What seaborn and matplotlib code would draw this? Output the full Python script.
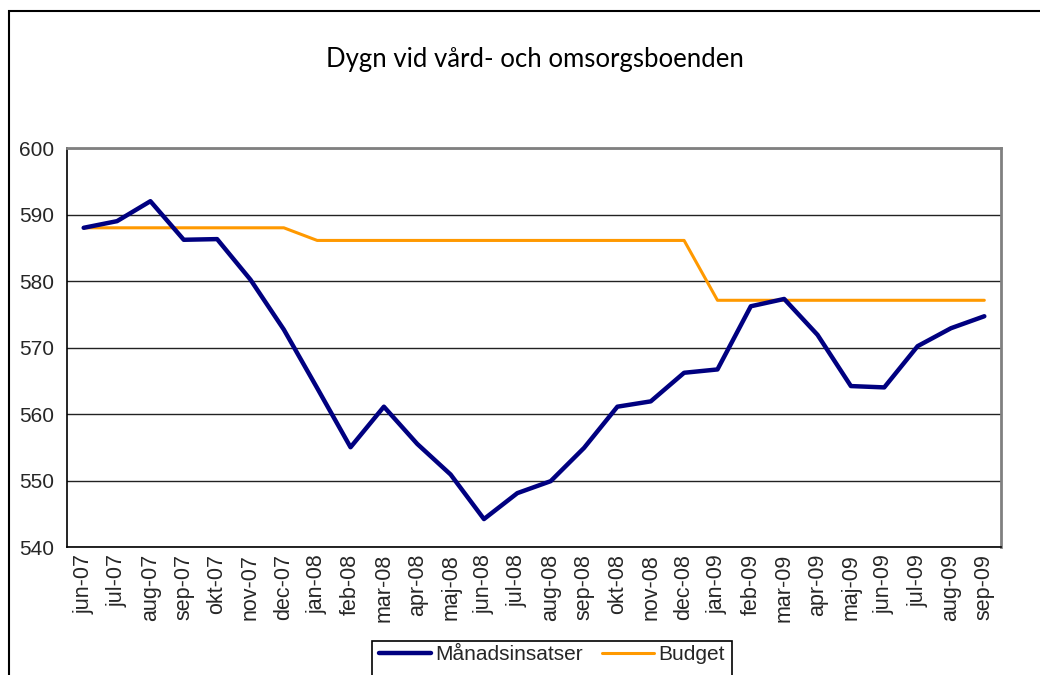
import numpy as np
import pandas as pd
import seaborn as sns
import matplotlib.pyplot as plt
from matplotlib.patches import Rectangle

# Månader (kategorier på x-axeln)
months = ["jun-07", "jul-07", "aug-07", "sep-07", "okt-07", "nov-07", "dec-07",
          "jan-08", "feb-08", "mar-08", "apr-08", "maj-08", "jun-08", "jul-08",
          "aug-08", "sep-08", "okt-08", "nov-08", "dec-08", "jan-09", "feb-09",
          "mar-09", "apr-09", "maj-09", "jun-09", "jul-09", "aug-09", "sep-09"]

# Månadsinsatser
insatser = [588.0, 589.0, 592.0, 586.2, 586.3, 580.2, 572.7,
            563.9, 555.0, 561.1, 555.5, 550.9, 544.2, 548.1,
            549.9, 554.9, 561.1, 561.9, 566.2, 566.7, 576.2,
            577.3, 571.9, 564.2, 564.0, 570.2, 572.9, 574.7]

# Budget
budget = [588.0] * 7 + [586.1] * 12 + [577.1] * 9

y_ticks = [540, 550, 560, 570, 580, 590, 600]

df = pd.DataFrame({
    "month": months * 2,
    "value": insatser + budget,
    "serie": ["Månadsinsatser"] * len(months) + ["Budget"] * len(months),
})

sns.set_style("white")
plt.rcParams["font.family"] = ["Liberation Sans", "DejaVu Sans"]

fig = plt.figure(figsize=(10.4, 6.75), dpi=100)
ax = fig.add_axes([67 / 1040, 1 - 547 / 675, (1001 - 67) / 1040, (547 - 148) / 675])

sns.lineplot(data=df, x="month", y="value", hue="serie", sort=False,
             palette={"Månadsinsatser": "#000080", "Budget": "#FF9900"},
             ax=ax, legend=False)
ax.lines[0].set_linewidth(3.2)
ax.lines[1].set_linewidth(2.2)
ax.lines[1].set_zorder(3)
ax.lines[0].set_zorder(4)

ax.set_ylim(540, 600)
ax.set_xlim(-0.5, len(months) - 0.5)
ax.set_yticks(y_ticks)
ax.set_yticklabels([str(v) for v in y_ticks], fontsize=15)
ax.yaxis.grid(True, color="#222222", linewidth=1.0)
ax.set_axisbelow(True)

# tick marks at category boundaries, labels at centres
ax.set_xticks(np.arange(-0.5, len(months), 1.0))
ax.set_xticklabels([])
ax.set_xticks(np.arange(len(months)), minor=True)
ax.set_xticklabels(months, minor=True, rotation=90, fontsize=15.5)
ax.tick_params(axis="x", which="major", direction="out", length=7, width=1, color="black")
ax.tick_params(axis="x", which="minor", length=0, pad=5)
ax.tick_params(axis="y", direction="out", length=6, width=1, color="black", pad=3)
ax.set_xlabel("")
ax.set_ylabel("")

for side in ["left", "bottom"]:
    ax.spines[side].set_color("black")
    ax.spines[side].set_linewidth(1.2)
for side in ["top", "right"]:
    ax.spines[side].set_color("#808080")
    ax.spines[side].set_linewidth(2)

fig.text(535 / 1040, 1 - 60 / 675, "Dygn vid vård- och omsorgsboenden",
         ha="center", va="center", fontsize=18.5, color="black",
         family=["Lato", "DejaVu Sans"])

# legend (box runs off the bottom edge like in the original)
handles = [plt.Line2D([], [], color="#000080", lw=3.2),
           plt.Line2D([], [], color="#FF9900", lw=2.2)]
leg = fig.legend(handles, ["Månadsinsatser", "Budget"], loc="upper center",
                 bbox_to_anchor=(552 / 1040, 1 - 642 / 675), ncol=2, fontsize=15,
                 frameon=False, handlelength=2.5, handletextpad=0.2,
                 columnspacing=0.9, borderpad=0.15, borderaxespad=0)
fig.patches.append(Rectangle((372 / 1040, -0.1), 360 / 1040, 0.1 + 1 - 641 / 675,
                             transform=fig.transFigure, fill=False,
                             edgecolor="black", linewidth=1.2))

# chart border
fig.patches.append(Rectangle((9 / 1040, -0.2), 1.2, 1.2 - 11 / 675,
                             transform=fig.transFigure, fill=False,
                             edgecolor="black", linewidth=1.5))

fig.savefig("out.png", dpi=100)
